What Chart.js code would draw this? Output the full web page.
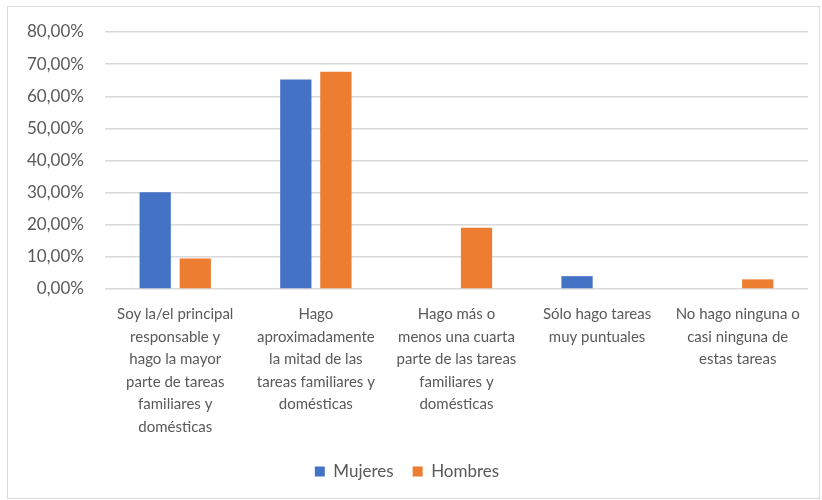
<!DOCTYPE html>
<html>
<head>
<meta charset="utf-8">
<script src="https://cdn.jsdelivr.net/npm/chart.js@4/dist/chart.umd.min.js"></script>
<style>
  body { margin: 0; background: #fff; }
  #wrap { position: relative; width: 822px; height: 500px; }
  #frame { position: absolute; left: 7px; top: 6px; width: 811px; height: 491px; border: 1.5px solid #d9d9d9; pointer-events: none; }
</style>
</head>
<body>
<div id="wrap">
  <canvas id="chart" width="822" height="500"></canvas>
  <div id="frame"></div>
</div>
<script>
// categories (multi-line as in the original)
const categories = [
  ['Soy la/el principal', 'responsable y', 'hago la mayor', 'parte de tareas', 'familiares y', 'domésticas'],
  ['Hago', 'aproximadamente', 'la mitad de las', 'tareas familiares y', 'domésticas'],
  ['Hago más o', 'menos una cuarta', 'parte de las tareas', 'familiares y', 'domésticas'],
  ['Sólo hago tareas', 'muy puntuales'],
  ['No hago ninguna o', 'casi ninguna de', 'estas tareas']
];
const mujeres = [30.1, 65.2, 0, 4.0, 0];
const hombres = [9.5, 67.6, 19.1, 0, 3.0];
const yTicks = [0, 10, 20, 30, 40, 50, 60, 70, 80];

const ctx = document.getElementById('chart').getContext('2d');
new Chart(ctx, {
  type: 'bar',
  data: {
    labels: categories,
    datasets: [
      { label: 'Mujeres', data: mujeres, backgroundColor: '#4472C4' },
      { label: 'Hombres', data: hombres, backgroundColor: '#ED7D31' }
    ]
  },
  options: {
    responsive: false,
    animation: false,
    layout: { padding: { left: 6, right: 14, top: 32, bottom: 10 } },
    datasets: { bar: { categoryPercentage: 0.57, barPercentage: 0.78 } },
    plugins: {
      legend: {
        position: 'bottom',
        labels: {
          boxWidth: 10, boxHeight: 10, padding: 19,
          color: '#595959', font: { family: 'Lato', size: 17 }
        }
      },
      tooltip: { enabled: false }
    },
    scales: {
      x: {
        grid: { display: false },
        border: { display: false },
        ticks: {
          maxRotation: 0, autoSkip: false, padding: 6,
          color: '#595959', font: { family: 'Lato', size: 15, lineHeight: 1.5 }
        }
      },
      y: {
        min: 0, max: 80,
        afterBuildTicks: axis => { axis.ticks = yTicks.map(v => ({ value: v })); },
        grid: { color: '#d9d9d9', lineWidth: 1.5, drawTicks: false },
        border: { display: false },
        ticks: {
          padding: 21, color: '#595959', font: { family: 'Lato', size: 17 },
          callback: v => v.toFixed(2).replace('.', ',') + '%'
        }
      }
    }
  }
});
</script>
</body>
</html>
